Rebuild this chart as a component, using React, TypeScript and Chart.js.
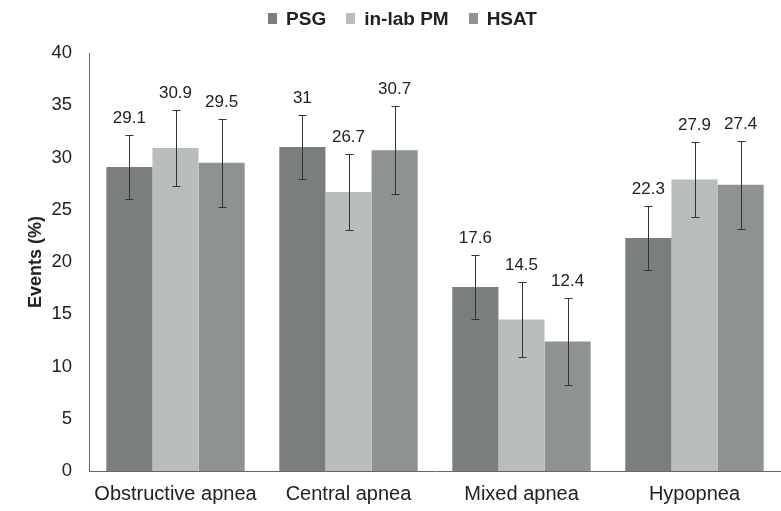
import React, { useEffect, useRef } from "react";
import { Chart, registerables } from "chart.js";

Chart.register(...registerables);

const categories = ["Obstructive apnea", "Central apnea", "Mixed apnea", "Hypopnea"];
const seriesNames = ["PSG", "in-lab PM", "HSAT"];
const psgValues = [29.1, 31, 17.6, 22.3];
const pmValues = [30.9, 26.7, 14.5, 27.9];
const hsatValues = [29.5, 30.7, 12.4, 27.4];
const psgErrors = [3.1, 3.1, 3.1, 3.1];
const pmErrors = [3.6, 3.6, 3.6, 3.6];
const hsatErrors = [4.2, 4.2, 4.2, 4.2];
const seriesColors = ["#7a7f7e", "#b9bebd", "#8e9392"];
const yTicks = [0, 5, 10, 15, 20, 25, 30, 35, 40];

const FONT = "'Liberation Sans', Arial, sans-serif";

const errorBarPlugin = {
  id: "errorBars",
  afterDatasetsDraw(chart: any) {
    const ctx = chart.ctx;
    const yScale = chart.scales.y;
    const errs = [psgErrors, pmErrors, hsatErrors];
    chart.data.datasets.forEach((ds: any, di: number) => {
      const meta = chart.getDatasetMeta(di);
      meta.data.forEach((bar: any, i: number) => {
        const v = ds.data[i];
        const e = errs[di][i];
        const x = Math.round(bar.x) + 0.5;
        const yT = Math.round(yScale.getPixelForValue(v + e)) + 0.5;
        const yB = Math.round(yScale.getPixelForValue(v - e)) + 0.5;
        ctx.save();
        ctx.strokeStyle = "#333";
        ctx.lineWidth = 1;
        ctx.beginPath();
        ctx.moveTo(x, yT);
        ctx.lineTo(x, yB);
        ctx.moveTo(x - 4, yT);
        ctx.lineTo(x + 4, yT);
        ctx.moveTo(x - 4, yB);
        ctx.lineTo(x + 4, yB);
        ctx.stroke();
        ctx.fillStyle = "#222";
        ctx.font = `17px ${FONT}`;
        ctx.textAlign = "center";
        ctx.textBaseline = "alphabetic";
        ctx.fillText(String(v), bar.x, yT - 13);
        ctx.restore();
      });
    });
  },
};

const customLegend = {
  id: "customLegend",
  afterDraw(chart: any) {
    const ctx = chart.ctx;
    ctx.save();
    ctx.font = `bold 19px ${FONT}`;
    const boxW = 9;
    const boxH = 11;
    const gapBoxText = 9;
    const gapItems = 20;
    const items = chart.data.datasets.map((ds: any) => ({
      label: ds.label,
      color: ds.backgroundColor,
      w: ctx.measureText(ds.label).width,
    }));
    const total =
      items.reduce((s: number, it: any) => s + boxW + gapBoxText + it.w, 0) +
      gapItems * (items.length - 1);
    const centerX = 402.5;
    const baseline = 25;
    let x = centerX - total / 2;
    items.forEach((it: any) => {
      ctx.fillStyle = it.color;
      ctx.fillRect(Math.round(x), baseline - 12, boxW, boxH);
      x += boxW + gapBoxText;
      ctx.fillStyle = "#222";
      ctx.textAlign = "left";
      ctx.textBaseline = "alphabetic";
      ctx.fillText(it.label, x, baseline);
      x += it.w + gapItems;
    });
    ctx.restore();
  },
};

export default function App() {
  const ref = useRef<HTMLCanvasElement>(null);
  useEffect(() => {
    document.body.style.margin = "0";
    const chart = new Chart(ref.current!, {
      type: "bar",
      data: {
        labels: categories,
        datasets: [
          { label: seriesNames[0], data: psgValues, backgroundColor: seriesColors[0] },
          { label: seriesNames[1], data: pmValues, backgroundColor: seriesColors[1] },
          { label: seriesNames[2], data: hsatValues, backgroundColor: seriesColors[2] },
        ],
      },
      options: {
        animation: false,
        responsive: false,
        devicePixelRatio: 1,
        layout: { padding: { left: 0, right: 0, top: 53, bottom: 0 } },
        datasets: { bar: { categoryPercentage: 0.8, barPercentage: 1.0 } },
        plugins: {
          legend: { display: false },
          tooltip: { enabled: false },
        },
        scales: {
          x: {
            grid: { display: false, drawTicks: false },
            border: { display: true, color: "#666", width: 1 },
            ticks: { color: "#222", font: { family: FONT, size: 20 }, padding: 11, maxRotation: 0, autoSkip: false },
            afterFit(scale: any) {
              scale.height = 40;
              scale.paddingLeft = 0;
              scale.paddingRight = 0;
            },
          },
          y: {
            min: 0,
            max: 40,
            afterBuildTicks(scale: any) {
              scale.ticks = yTicks.map((v) => ({ value: v }));
            },
            grid: { display: false, drawTicks: false },
            border: { display: true, color: "#666", width: 1 },
            ticks: { color: "#222", font: { family: FONT, size: 18.5 }, padding: 17 },
            title: {
              display: true,
              text: "Events (%)",
              color: "#222",
              font: { family: FONT, size: 18, weight: "bold" },
              padding: { top: 25, bottom: 4 },
            },
            afterFit(scale: any) {
              scale.width = 89;
              scale.paddingTop = 0;
              scale.paddingBottom = 0;
            },
          },
        },
      },
      plugins: [errorBarPlugin, customLegend],
    });
    return () => chart.destroy();
  }, []);
  return (
    <div style={{ position: "absolute", left: 0, top: 0, width: 781, height: 511 }}>
      <canvas ref={ref} width={781} height={511} />
    </div>
  );
}
